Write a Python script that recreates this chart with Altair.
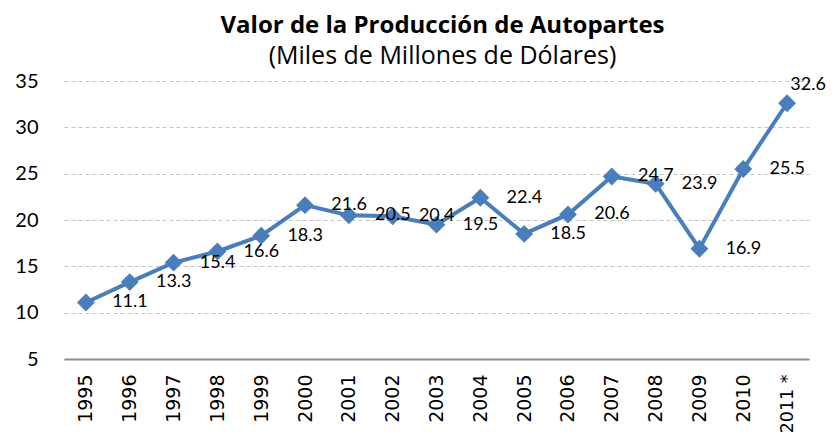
import altair as alt
import pandas as pd

years = ["1995", "1996", "1997", "1998", "1999", "2000", "2001", "2002", "2003",
         "2004", "2005", "2006", "2007", "2008", "2009", "2010", "2011 *"]
values = [11.1, 13.3, 15.4, 16.6, 18.3, 21.6, 20.5, 20.4, 19.5,
          22.4, 18.5, 20.6, 24.7, 23.9, 16.9, 25.5, 32.6]
labels = [f"{v:.1f}" for v in values]
y_ticks = [5, 10, 15, 20, 25, 30, 35]

df = pd.DataFrame({
    "year": years,
    "value": values,
    "label": labels,
    "last": [i == len(years) - 1 for i in range(len(years))],
})

blue = "#4A7EBB"

x_enc = alt.X(
    "year:N", sort=years, title=None,
    axis=alt.Axis(labelAngle=-90, labelFont="DejaVu Sans",
                  labelFontSize={"condition": {"test": "datum.value == '2011 *'", "value": 17.5},
                                 "value": 19},
                  labelColor="#000000", labelPadding=15, ticks=False,
                  domainColor="#8C8C8C", domainWidth=2, grid=False),
)
y_enc = alt.Y(
    "value:Q", title=None,
    scale=alt.Scale(domain=[5, 35], nice=False, zero=False),
    axis=alt.Axis(values=y_ticks, labelFont="Lato", labelFontSize=20,
                  labelColor="#000000", labelPadding=26, ticks=False,
                  domain=False, grid=True, gridColor="#C4C4C4",
                  gridDash=[4, 3], gridWidth=1.2),
)

base = alt.Chart(df).encode(x=x_enc, y=y_enc)

line = base.mark_line(color=blue, strokeWidth=4)
pts = base.mark_point(shape="diamond", filled=True, size=320, color=blue, opacity=1)

txt = base.transform_filter("!datum.last").mark_text(
    font="Lato", fontSize=18, color="#000000", dx=44, align="center",
    baseline="middle").encode(text="label:N")
txt_last = base.transform_filter("datum.last").mark_text(
    font="Lato", fontSize=18, color="#000000", dx=21, dy=-18, align="center",
    baseline="middle").encode(text="label:N")

chart = alt.layer(line, pts, txt, txt_last).properties(
    width=745, height=278,
    padding={"left": 56, "top": 73, "right": 19, "bottom": 77},
    autosize=alt.AutoSizeParams(type="none"),
    background="#FFFFFF",
    title=alt.TitleParams(
        text="Valor de la Producción de Autopartes",
        subtitle="(Miles de Millones de Dólares)",
        font="Open Sans", fontSize=24, fontWeight="bold", color="#000000",
        subtitleFont="Open Sans", subtitleFontSize=25, subtitleColor="#000000",
        subtitlePadding=6, anchor="middle", dx=6, offset=2,
    ),
).configure_view(stroke=None)

chart.save("out.html", embed_options={"renderer": "svg", "actions": False})
